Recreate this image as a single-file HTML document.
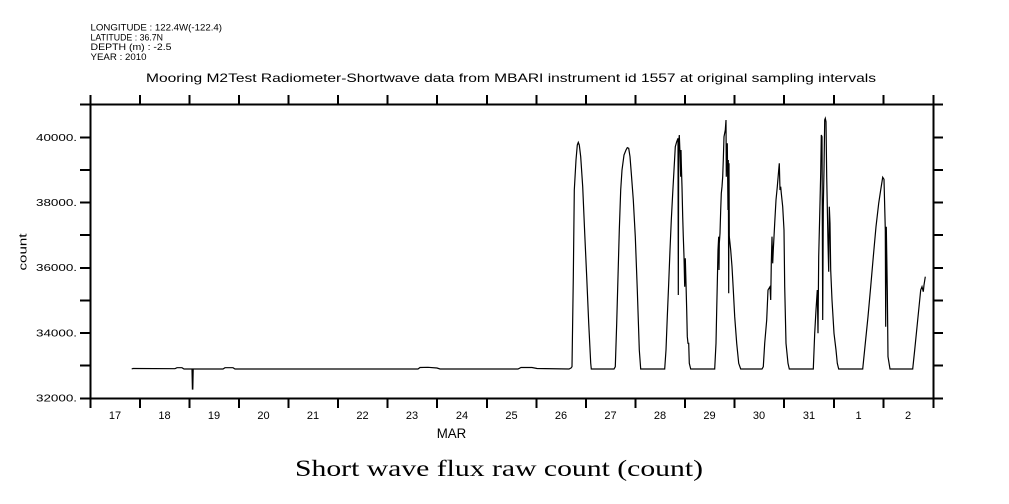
<!DOCTYPE html>
<html>
<head>
<meta charset="utf-8">
<style>
html,body{margin:0;padding:0;background:#fff;}
svg{display:block;}
text{fill:#000;}
</style>
</head>
<body>
<svg width="1009" height="504" viewBox="0 0 1009 504" xmlns="http://www.w3.org/2000/svg">
<rect x="0" y="0" width="1009" height="504" fill="#fff"/>
<!-- header -->
<g font-family="Liberation Sans, sans-serif" font-size="9.5">
<text x="90.5" y="30.5" textLength="131.5" lengthAdjust="spacingAndGlyphs">LONGITUDE : 122.4W(-122.4)</text>
<text x="90.5" y="40.5" textLength="72.5" lengthAdjust="spacingAndGlyphs">LATITUDE : 36.7N</text>
<text x="90.5" y="50" textLength="81" lengthAdjust="spacingAndGlyphs">DEPTH (m) : -2.5</text>
<text x="90.5" y="60" textLength="56" lengthAdjust="spacingAndGlyphs">YEAR : 2010</text>
</g>
<text x="146" y="82" font-family="Liberation Sans, sans-serif" font-size="12" textLength="730" lengthAdjust="spacingAndGlyphs">Mooring M2Test Radiometer-Shortwave data from MBARI instrument id 1557 at original sampling intervals</text>

<!-- frame -->
<g stroke="#000" stroke-width="1.6" shape-rendering="crispEdges" fill="none">
<line x1="90.5" y1="95" x2="90.5" y2="408"/>
<line x1="933.5" y1="95" x2="933.5" y2="408"/>
<line x1="80" y1="104.5" x2="943" y2="104.5"/>
<line x1="80" y1="398.5" x2="943" y2="398.5"/>
<!-- top/bottom ticks -->
<path d="M140,95V104 M189.5,95V104 M239,95V104 M288.5,95V104 M338,95V104 M387.5,95V104 M437,95V104 M487,95V104 M536.5,95V104 M586,95V104 M635.5,95V104 M685,95V104 M734.5,95V104 M784,95V104 M834,95V104 M883.5,95V104"/>
<path d="M140,398V408 M189.5,398V408 M239,398V408 M288.5,398V408 M338,398V408 M387.5,398V408 M437,398V408 M487,398V408 M536.5,398V408 M586,398V408 M635.5,398V408 M685,398V408 M734.5,398V408 M784,398V408 M834,398V408 M883.5,398V408"/>
<!-- left/right ticks -->
<path d="M80,365.5H90 M80,333H90 M80,300.5H90 M80,268H90 M80,235H90 M80,202.5H90 M80,170H90 M80,137.5H90"/>
<path d="M933,365.5H943 M933,333H943 M933,300.5H943 M933,268H943 M933,235H943 M933,202.5H943 M933,170H943 M933,137.5H943"/>
</g>

<!-- y labels -->
<g font-family="Liberation Sans, sans-serif" font-size="10" text-anchor="end">
<text x="77" y="141" textLength="41" lengthAdjust="spacingAndGlyphs">40000.</text>
<text x="77" y="206" textLength="41" lengthAdjust="spacingAndGlyphs">38000.</text>
<text x="77" y="271" textLength="41" lengthAdjust="spacingAndGlyphs">36000.</text>
<text x="77" y="336.5" textLength="41" lengthAdjust="spacingAndGlyphs">34000.</text>
<text x="77" y="401.5" textLength="41" lengthAdjust="spacingAndGlyphs">32000.</text>
</g>
<text transform="translate(26.5,252) rotate(-90)" font-family="Liberation Sans, sans-serif" font-size="11" text-anchor="middle" textLength="37" lengthAdjust="spacingAndGlyphs">count</text>

<!-- day labels -->
<g font-family="Liberation Sans, sans-serif" font-size="11" text-anchor="middle">
<text x="115" y="419">17</text>
<text x="164.5" y="419">18</text>
<text x="214" y="419">19</text>
<text x="263.5" y="419">20</text>
<text x="313" y="419">21</text>
<text x="362.5" y="419">22</text>
<text x="412" y="419">23</text>
<text x="462" y="419">24</text>
<text x="511.5" y="419">25</text>
<text x="561" y="419">26</text>
<text x="610.5" y="419">27</text>
<text x="660" y="419">28</text>
<text x="709.5" y="419">29</text>
<text x="759" y="419">30</text>
<text x="809" y="419">31</text>
<text x="858.5" y="419">1</text>
<text x="908" y="419">2</text>
</g>
<text x="451.5" y="438" font-family="Liberation Sans, sans-serif" font-size="14" text-anchor="middle" textLength="29.5" lengthAdjust="spacingAndGlyphs">MAR</text>

<text x="295" y="476" font-family="Liberation Serif, serif" font-size="23" textLength="408" lengthAdjust="spacingAndGlyphs">Short wave flux raw count (count)</text>

<!-- data -->
<path fill="none" stroke="#000" stroke-width="1.2" stroke-linejoin="miter" d="
M131.7,369 L133,368.5 L175,368.7 L177,367.7 L182,367.7 L184,369 L192,369 L192.4,389 L192.8,389 L193.2,369
L223,369 L225,367.7 L233,367.7 L235,369 L418,369 L420,367.5 L428,367.3 L437,368 L440,369 L473,369 L518,369 L521,367.5 L532,367.5 L537,368.5 L569,369 L571,368 L572,366.7
L573.3,278 L574.3,190 L576,160 L577.3,145 L578.3,142.3 L579.3,145 L580.7,156.7 L582.7,186.7 L584.7,233 L586.7,276.7 L588.7,323 L590.7,363 L591.3,369
L614,369 L615.3,366.7
L616.7,323.3 L618,276.7 L619.3,230 L620.7,190 L622,170 L624,155 L626,150 L627.3,147.7 L628.7,148.3 L630,156.7 L631.3,173.3 L633.3,200 L635.3,236.7 L637.3,290 L639.3,350 L640.7,369
L664.7,369
L666,350 L667.3,316.7 L668.7,283.3 L670,250 L671.3,220 L672.7,193.3 L674,170 L675.3,146.7 L676.7,141.7 L678,138.3 L678.3,295 L678.7,143.3 L679.3,135 L680,153.3 L680.7,176.7 L681,150 L681.3,163.3 L682,186.7 L682.7,216.7 L683.3,236.7 L684,256.7 L684.7,286.7 L685.3,258.3 L686,283.3 L686.7,310 L687.3,336.7 L688,343.3 L688.7,343.3 L689.3,363.3 L690.7,369
L714.7,369
L716,343.3 L716.7,310 L717.3,283.3 L718,250 L718.7,236.7 L719,270 L719.3,243.3 L720,233.3 L720.7,210 L721.3,193.3 L722,186.7 L722.7,176.7 L723.3,160 L724,136.7 L725.3,130 L726,120 L726.3,176.7 L726.7,150 L727.3,143.3 L728,210 L728.3,160 L728.7,293.3 L729,163.3 L729.3,236.7 L730,243.3 L730.7,250 L732,266.7 L733.3,290 L734.7,316.7 L736.7,343.3 L738.7,363.3 L740.7,369
L762,369
L763.3,366.7 L764.7,343.3 L766.7,320 L768,290 L770,286.7 L770.7,300 L771.3,263.3 L772,236.7 L772.7,263.3 L773.3,250 L774.7,223.3 L776,200 L777.3,186.7 L778.7,170 L779.3,163.3 L780,190 L780.7,186.7 L781.3,193.3 L782.7,206.7 L784,230 L784.7,286.7 L786,343.3 L788,363.3 L789.3,369
L813.3,369
L814.7,333.3 L816,310 L817.3,290 L818,333.3 L818.7,256.7 L820,203.3 L820.7,173.3 L821.3,135 L822,136.7 L822.7,320 L823.3,206.7 L824,170 L824.7,120 L825.3,118.3 L826,121.7 L826.7,176.7 L827.3,206.7 L828,243.3 L828.7,271.7 L829.3,206.7 L830,223.3 L830.7,270 L832,300 L834,333.3 L836,350 L837.3,363.3 L838.7,369
L862.7,369
L865.3,343.3 L868,316.7 L870.7,286.7 L873.3,256.7 L876,226.7 L878.7,203.3 L880.7,190 L882.7,177.3 L884,179.3 L885.3,230 L885.7,326.7 L886.3,226.7 L887.3,290 L888,356.7 L890,369
L912.7,369
L914.7,350 L916.7,330 L918.7,310 L920.7,290 L922,286.7 L923.3,291.7 L924,285 L925.3,276.7"/>
</svg>
</body>
</html>
